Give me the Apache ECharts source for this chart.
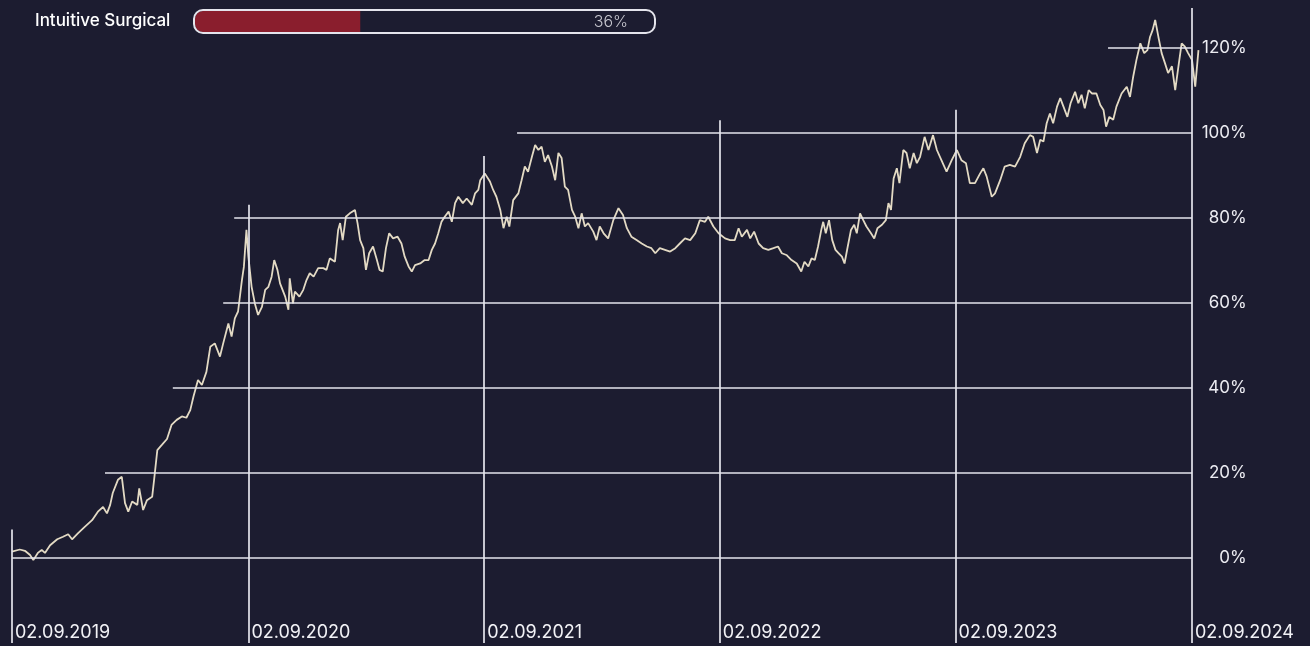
<!DOCTYPE html>
<html><head><meta charset="utf-8">
<script src="https://cdn.jsdelivr.net/npm/echarts@6/dist/echarts.min.js"></script>
<style>html,body{margin:0;padding:0;background:#1c1c30;}#c{width:1310px;height:646px;}</style>
</head><body><div id="c"></div>
<script>
const startDate = '2019-09-02';
const endDate = '2024-09-14';
const companyName = 'Intuitive Surgical';
const progressPct = 36;

const dayOffsets = [0,12,20,28,33,40,46,51,59,70,
79,87,93,102,113,124,133,141,147,152,
156,164,170,175,180,186,194,197,203,209,
217,220,225,232,240,247,255,263,270,276,
281,288,294,301,307,314,322,327,335,340,
345,350,356,359,363,366,371,376,381,387,
392,397,402,406,411,415,423,428,430,435,
438,445,451,456,461,467,474,482,487,492,
500,505,508,512,517,523,531,535,539,544,
548,553,559,565,569,574,579,584,590,597,
603,608,614,619,624,632,639,645,650,655,
660,665,670,676,681,686,691,698,704,712,
717,722,725,732,740,745,750,756,761,766,
770,776,784,789,794,799,805,810,815,820,
825,830,836,841,846,851,856,861,867,872,
877,882,887,892,900,905,910,916,923,931,
939,946,952,959,967,975,983,990,996,1003,
1011,1019,1027,1034,1042,1050,1058,1065,1073,1078,
1086,1094,1096,1104,1112,1119,1125,1130,1138,1143,
1149,1156,1163,1171,1179,1186,1192,1199,1207,1215,
1222,1227,1233,1238,1243,1248,1253,1256,1260,1265,
1270,1275,1280,1285,1289,1294,1299,1304,1308,1313,
1318,1323,1330,1335,1340,1347,1353,1357,1361,1365,
1370,1374,1380,1385,1390,1396,1401,1406,1413,1419,
1426,1432,1439,1447,1455,1463,1470,1477,1483,1491,
1499,1504,1509,1517,1522,1530,1537,1545,1553,1561,
1568,1576,1581,1587,1592,1597,1602,1607,1612,1618,
1623,1628,1634,1639,1646,1651,1656,1661,1667,1672,
1679,1685,1690,1694,1699,1705,1710,1718,1726,1731,
1736,1741,1747,1753,1758,1762,1766,1770,1775,1780,
1785,1790,1796,1801,1806,1811,1816,1821,1827,1832,
1837];

const values = [1.5,2.0,1.7,0.7,-0.5,1.2,1.9,1.2,3.0,4.4,
5.0,5.6,4.4,5.8,7.4,8.9,10.9,12.0,10.5,12.5,
15.3,18.4,19.1,12.9,10.9,13.3,12.5,16.4,11.3,13.6,
14.4,18.4,25.4,26.6,28.0,31.3,32.5,33.3,33.0,34.8,
38.0,41.9,40.7,43.8,49.7,50.5,47.4,50.5,55.2,52.1,
56.4,58.0,65.4,68.5,77.2,70.9,63.8,59.9,57.2,59.1,
63.1,63.8,66.2,70.1,67.8,64.6,61.5,58.4,65.8,59.9,
62.7,61.5,63.1,65.4,67.0,66.2,68.2,68.2,67.8,70.5,
69.7,77.2,78.8,74.8,80.3,81.1,81.9,78.8,74.8,72.9,
67.8,71.7,73.3,70.1,67.8,67.4,72.9,76.4,75.2,75.6,
74.0,70.9,68.6,67.4,68.9,69.3,70.1,70.1,72.5,74.0,
76.4,79.1,80.3,81.5,79.1,83.5,85.0,83.5,84.6,83.1,
85.8,86.6,88.9,90.5,88.6,86.6,85.0,81.9,77.6,80.3,
78.0,84.2,85.8,88.9,92.1,90.9,94.4,97.2,96.0,96.8,
93.2,94.8,92.1,88.9,95.3,94.1,87.4,86.6,81.9,80.3,
77.6,81.1,78.0,78.8,76.8,74.8,78.0,76.4,75.2,79.5,
82.3,80.7,77.6,75.6,74.8,74.0,73.3,72.9,71.7,72.9,
72.5,72.1,72.9,74.0,75.2,74.8,76.4,79.5,79.1,80.3,
78.0,76.4,76.0,75.2,74.8,74.8,77.6,75.6,77.2,75.2,
76.8,74.0,72.9,72.5,72.9,73.3,71.7,71.3,70.1,69.3,
67.4,69.7,68.6,70.5,70.1,73.3,77.2,79.1,76.4,79.5,
74.8,72.5,71.7,70.9,69.3,73.3,77.2,78.4,76.4,81.1,
79.5,78.0,76.4,75.2,77.6,78.4,79.5,83.5,81.9,89.3,
91.7,88.2,96.0,95.3,91.7,95.3,92.9,94.4,99.1,96.0,
99.5,96.0,93.6,90.9,93.6,96.0,93.6,92.9,88.2,88.2,
90.5,91.7,89.8,85.0,85.8,88.9,92.1,92.5,92.1,94.4,
97.6,99.5,99.1,95.3,98.4,98.0,102.3,104.6,102.3,106.2,
108.2,106.2,103.8,107.0,109.7,107.0,109.0,105.8,110.1,109.3,
109.3,106.6,105.4,101.5,103.8,103.1,106.2,109.3,110.9,108.5,
113.3,117.2,121.1,118.8,119.5,122.6,124.2,126.6,122.6,118.8,
116.5,114.1,115.7,110.1,115.7,121.1,120.3,118.8,117.2,110.9,
119.5];

const yearLabels = ['02.09.2019','02.09.2020','02.09.2021','02.09.2022','02.09.2023','02.09.2024'];
const yearLineTops = [6.7, 83.1, 94.6, 103.0, 105.5, 129.4];
const gridLevels = [0, 20, 40, 60, 80, 100, 120];
const gridLevelStarts = ['2019-09-02','2020-01-24','2020-05-08','2020-07-25','2020-08-11','2021-10-23','2024-04-25'];

function isoTs(s, addDays) {
  const p = s.split('-').map(Number);
  return new Date(p[0], p[1] - 1, p[2] + (addDays || 0)).getTime();
}
function dmyTs(s) {
  const p = s.split('.').map(Number);
  return new Date(p[2], p[1] - 1, p[0]).getTime();
}

const lineData = dayOffsets.map((d, i) => [isoTs(startDate, d), values[i]]);
const yearTs = yearLabels.map(dmyTs);
const lastYearTs = yearTs[yearTs.length - 1];

const lineStyleGrid = { color: '#e4e4ec', width: 1.7, type: 'solid' };
const markData = [];
gridLevels.forEach((v, i) => {
  markData.push([{ coord: [isoTs(gridLevelStarts[i]), v] }, { coord: [lastYearTs, v] }]);
});
yearTs.forEach((t, i) => {
  markData.push([{ coord: [t, -20] }, { coord: [t, yearLineTops[i]] }]);
});

const chart = echarts.init(document.getElementById('c'), null, { renderer: 'canvas' });
const FONT = 'Inter, "Noto Sans", sans-serif';
chart.setOption({
  backgroundColor: '#1c1c30',
  animation: false,
  grid: { left: 12, right: 110.25, top: 5.5, bottom: 3 },
  xAxis: {
    type: 'value',
    min: isoTs(startDate),
    max: isoTs(endDate),
    axisLine: { show: false },
    axisTick: { show: false },
    splitLine: { show: false },
    axisLabel: {
      customValues: yearTs,
      inside: true,
      margin: 1,
      align: 'left',
      padding: [0, 0, 0, 3],
      color: '#f2f2f6',
      fontFamily: FONT,
      fontSize: 18,
      hideOverlap: false,
      showMinLabel: true,
      showMaxLabel: true,
      formatter: function (v) {
        const i = yearTs.indexOf(v);
        return i >= 0 ? yearLabels[i] : '';
      }
    }
  },
  yAxis: {
    type: 'value',
    position: 'right',
    min: -20,
    max: 130,
    interval: 20,
    axisLine: { show: false },
    axisTick: { show: false },
    splitLine: { show: false },
    axisLabel: {
      align: 'right',
      margin: 47,
      color: '#ececf2',
      fontFamily: FONT,
      fontSize: 17,
      formatter: function (v) { return (v >= 0 && v <= 120) ? v + '%' : ''; }
    }
  },
  series: [
    {
      type: 'line',
      z: 1,
      data: [],
      silent: true,
      markLine: {
        silent: true,
        symbol: 'none',
        label: { show: false },
        lineStyle: lineStyleGrid,
        emphasis: { disabled: true },
        data: markData
      }
    },
    {
      type: 'line',
      z: 2,
      data: lineData,
      showSymbol: false,
      smooth: false,
      lineStyle: { color: '#e3dac4', width: 1.8 },
      silent: true
    }
  ],
  graphic: [
    { type: 'text', left: 35, top: 12, style: { text: companyName, fill: '#ffffff', font: '500 17px ' + FONT } },
    { type: 'rect', shape: { x: 194, y: 10, width: 461, height: 23, r: 9 }, style: { fill: 'transparent', stroke: '#e4e4ec', lineWidth: 2 }, z: 10 },
    { type: 'rect', shape: { x: 195, y: 11, width: 459 * progressPct / 100, height: 21, r: [8, 0, 0, 8] }, style: { fill: '#8a1e2d' }, z: 9 },
    { type: 'text', style: { x: 628, y: 22, text: progressPct + '%', fill: '#c6c6ce', font: '300 16px ' + FONT, align: 'right', verticalAlign: 'middle' }, z: 11 }
  ]
});
</script>
</body></html>
